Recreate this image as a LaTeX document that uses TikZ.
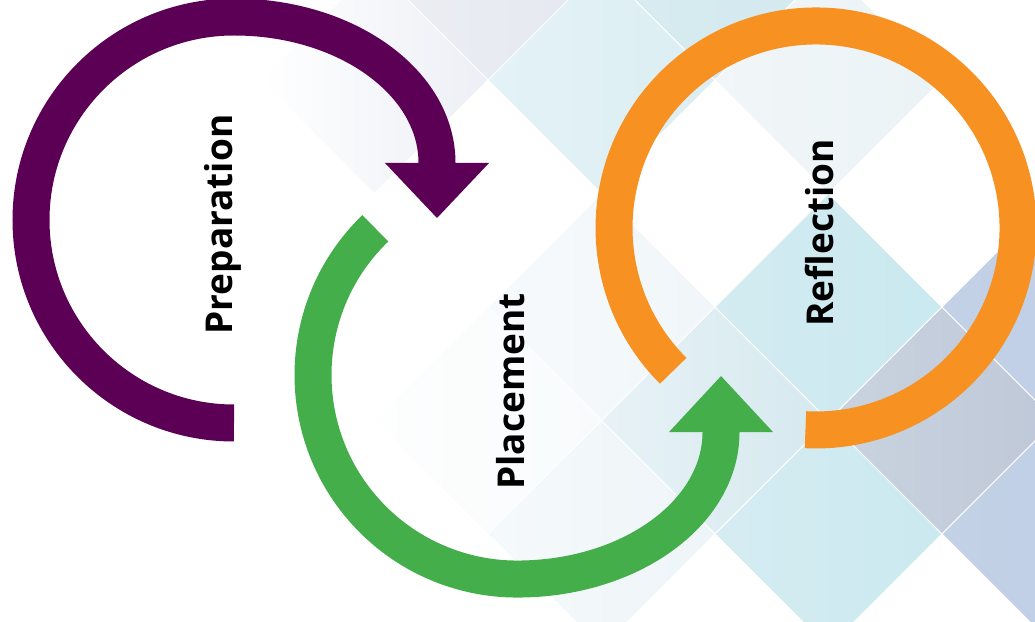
\documentclass[tikz,border=0pt]{standalone}
\usepackage{fontspec}
\setmainfont{Open Sans}
\definecolor{cpurple}{RGB}{92,0,85}
\definecolor{cgreen}{RGB}{67,174,74}
\definecolor{corange}{RGB}{247,145,34}
\definecolor{aL}{HTML}{E3F2F6}\definecolor{aR}{HTML}{DCEEF3}
\definecolor{bL}{HTML}{D8ECF1}\definecolor{bR}{HTML}{D3E9EF}
\definecolor{cL}{HTML}{F1F6F8}\definecolor{cR}{HTML}{EBF3F6}
\definecolor{dL}{HTML}{ECEEF3}\definecolor{dR}{HTML}{E5E8F0}
\definecolor{eL}{HTML}{FFFFFF}\definecolor{eR}{HTML}{ECEFF5}
\definecolor{fL}{HTML}{F7FAFC}\definecolor{fR}{HTML}{F0F6F9}
\definecolor{gL}{HTML}{E8F2F6}\definecolor{gR}{HTML}{D5E9EF}
\definecolor{hL}{HTML}{D3EBF1}\definecolor{hR}{HTML}{CAE9F0}
\definecolor{iL}{HTML}{D5ECF2}\definecolor{iR}{HTML}{CBE9F0}
\definecolor{jL}{HTML}{CAD3DF}\definecolor{jR}{HTML}{BEC8D8}
\definecolor{kL}{HTML}{C3D1E6}\definecolor{kR}{HTML}{BECEE5}
\definecolor{mL}{HTML}{F5F9FB}\definecolor{mR}{HTML}{EEF5F8}
\definecolor{nL}{HTML}{FDFEFE}\definecolor{nR}{HTML}{F8FBFC}
\newcommand\dcell[4]{%
  \shade[shift={(#1,{621-(#2)})}, left color=#3, right color=#4, draw=white, line width=0.8pt]
    (-113.5,0) -- (0,113.5) -- (113.5,0) -- (0,-113.5) -- cycle;}
\begin{document}
\begin{tikzpicture}[x=1pt,y=1pt,
  band/.style={line width=37pt, line cap=butt},
  lbl/.style={rotate=90, anchor=base, inner sep=0pt, font=\bfseries\fontsize{37}{37}\selectfont}]
\useasboundingbox (0,0) rectangle (1035,621);
\fill[white] (0,0) rectangle (1035,621);
\begin{scope}
\clip (0,0) rectangle (1035,621);
\dcell{601.5}{80}{aL}{aR}
\dcell{715}{-33.5}{bL}{bR}
\dcell{828.5}{80}{cL}{cR}
\dcell{488}{-33.5}{dL}{dR}
\dcell{374.5}{80}{eL}{eR}
\dcell{601.5}{307}{fL}{fR}
\dcell{715}{420.5}{gL}{gR}
\dcell{828.5}{307}{hL}{hR}
\dcell{828.5}{534}{iL}{iR}
\dcell{942}{420.5}{jL}{jR}
\dcell{1055.5}{307}{kL}{kR}
\dcell{1055.5}{534}{kL}{kR}
\dcell{601.5}{534}{mL}{mR}
\dcell{488}{420.5}{nL}{nR}
\end{scope}
% Preparation arrow
\coordinate (p0) at (234,198);
\draw[band, cpurple] (p0) arc[start angle=270, end angle=90, radius=203pt]
  arc[start angle=90, end angle=0, x radius=203pt, y radius=146pt] coordinate (p1) -- ++(0,-2);
\fill[cpurple] (p1) ++(-52,0) -- ++(104,0) -- ++(-52,-55) -- cycle;
% Placement arrow
\coordinate (g0) at (375.3,392.7);
\draw[band, cgreen] (g0) arc[start angle=134, end angle=270, radius=204pt]
  arc[start angle=270, end angle=360, x radius=204pt, y radius=147pt] coordinate (g1) -- ++(0,2);
\fill[cgreen] (g1) ++(-52,0) -- ++(104,0) -- ++(-52,56) -- cycle;
% Reflection ring
\coordinate (o0) at (673.2,250.2);
\draw[band, corange] (o0) arc[start angle=225, end angle=-93, radius=202pt];
% Labels
\node[lbl] (prep) at (232,396.5) {Preparation};
\node[lbl] (plac) at (524,229.5) {Placement};
\node[lbl] (refl) at (833,388) {Reflection};
\end{tikzpicture}
\end{document}
